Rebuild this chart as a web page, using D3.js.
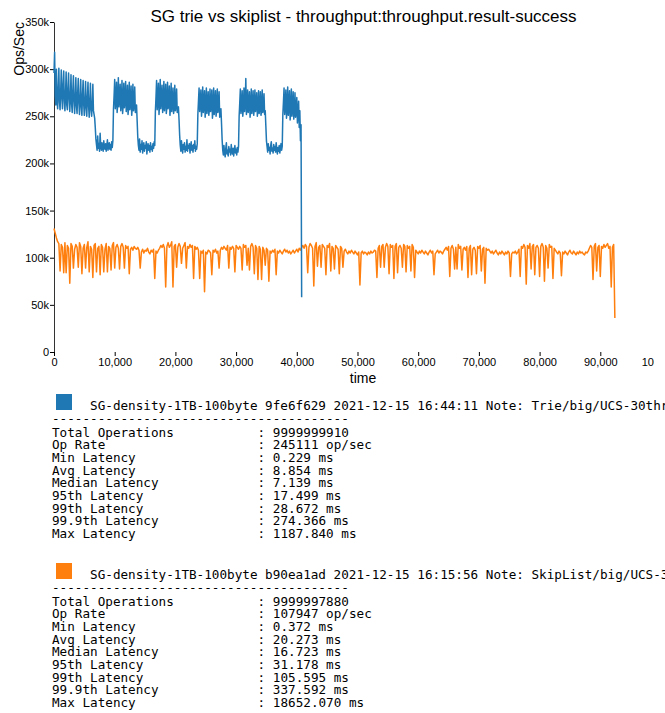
<!DOCTYPE html>
<html>
<head>
<meta charset="utf-8">
<script src="https://cdn.jsdelivr.net/npm/d3@7"></script>
<style>
  body { margin: 0; width: 665px; height: 713px; overflow: hidden; background: #fff; }
  .chart text { font-family: "Liberation Sans", Arial, sans-serif; fill: #000; }
  .legend text { font-family: "DejaVu Sans Mono", monospace; font-size: 12.65px; fill: #000; }
</style>
</head>
<body>
<div id="root"></div>
<script>
// throughput samples, in thousands of ops/sec
const trieStep = 100;   // seconds between samples
const trieOps = [
  296, 318, 272, 262, 300, 268, 258, 279, 301, 265,
  257, 276, 299, 270, 258, 284, 298, 266, 256, 274,
  297, 262, 257, 280, 296, 268, 255, 271, 294, 263,
  254, 277, 293, 266, 253, 270, 291, 261, 253, 275,
  290, 264, 252, 268, 289, 260, 251, 273, 288, 262,
  251, 266, 287, 259, 250, 270, 286, 261, 249, 265,
  285, 257, 250, 262, 284, 256, 252, 248, 238, 226,
  220, 214, 229, 216, 221, 213, 232, 218, 214, 222,
  216, 213, 224, 217, 215, 221, 213, 219, 225, 214,
  218, 222, 215, 220, 214, 223, 217, 224, 258, 272,
  289, 258, 265, 286, 254, 262, 291, 260, 268, 284,
  256, 263, 288, 253, 261, 285, 259, 266, 287, 255,
  262, 283, 252, 260, 286, 257, 264, 282, 251, 259,
  284, 256, 261, 281, 254, 258, 262, 245, 228, 219,
  214, 226, 212, 220, 215, 224, 211, 218, 222, 213,
  219, 216, 223, 210, 217, 221, 214, 219, 212, 222,
  215, 218, 213, 221, 216, 223, 219, 255, 270, 288,
  257, 266, 285, 252, 263, 289, 258, 267, 283, 254,
  261, 287, 256, 265, 284, 253, 260, 286, 258, 264,
  282, 251, 259, 285, 255, 262, 280, 253, 258, 283,
  256, 261, 279, 254, 258, 260, 246, 230, 219, 213,
  224, 216, 211, 220, 215, 222, 212, 218, 214, 225,
  213, 219, 216, 221, 211, 217, 223, 214, 219, 212,
  220, 216, 224, 213, 218, 215, 221, 252, 266, 280,
  255, 262, 278, 250, 259, 281, 254, 263, 277, 249,
  258, 280, 253, 261, 276, 251, 257, 279, 255, 262,
  278, 248, 256, 280, 252, 260, 277, 250, 257, 279,
  254, 259, 276, 249, 255, 258, 242, 225, 214, 209,
  219, 211, 207, 216, 222, 210, 214, 208, 218, 212,
  215, 209, 220, 213, 210, 216, 208, 214, 219, 211,
  215, 209, 217, 212, 218, 250, 264, 279, 253, 261,
  277, 250, 258, 280, 255, 263, 290, 252, 259, 278,
  254, 262, 276, 249, 257, 279, 253, 260, 277, 251,
  258, 278, 255, 262, 275, 250, 257, 277, 253, 259,
  276, 251, 256, 278, 254, 258, 274, 252, 256, 240,
  224, 218, 212, 221, 214, 217, 210, 219, 223, 213,
  216, 211, 220, 214, 218, 212, 222, 215, 210, 217,
  213, 219, 211, 216, 221, 214, 218, 252, 265, 280,
  252, 260, 278, 248, 257, 281, 251, 262, 277, 246,
  255, 279, 250, 258, 276, 247, 254, 275, 249, 256,
  270, 243, 252, 266, 238, 256, 224, 241, 58
];

const skipStep = 200;
const skipOps = [
  131, 126, 121, 117, 115, 86, 114, 111, 84, 116,
  84, 113, 110, 73, 115, 112, 89, 109, 114, 111,
  90, 116, 112, 83, 110, 114, 89, 111, 117, 85,
  112, 109, 79, 113, 115, 85, 110, 112, 82, 114,
  111, 85, 109, 115, 85, 112, 110, 87, 113, 116,
  89, 111, 114, 110, 88, 112, 115, 111, 89, 113,
  110, 112, 83, 109, 111, 108, 112, 110, 109, 111,
  108, 89, 106, 109, 105, 108, 107, 110, 106, 104,
  108, 106, 109, 78, 107, 105, 108, 110, 113, 111,
  114, 110, 69, 112, 116, 111, 113, 117, 69, 112,
  114, 90, 111, 115, 112, 94, 110, 113, 116, 89,
  112, 110, 114, 111, 113, 78, 112, 109, 111, 108,
  78, 107, 105, 108, 64, 106, 104, 108, 107, 105,
  82, 108, 106, 109, 105, 107, 89, 108, 111, 109,
  112, 110, 108, 113, 89, 111, 109, 112, 110, 85,
  113, 111, 109, 112, 110, 87, 114, 111, 113, 92,
  110, 87, 112, 115, 111, 83, 113, 110, 77, 112,
  109, 77, 111, 108, 92, 110, 108, 75, 107, 105,
  108, 106, 109, 82, 107, 105, 108, 106, 104, 107,
  109, 106, 108, 105, 107, 104, 106, 108, 105, 107,
  109, 106, 110, 108, 111, 113, 110, 114, 112, 84,
  111, 115, 113, 110, 70, 112, 116, 91, 111, 113,
  90, 114, 112, 110, 82, 113, 111, 115, 86, 112,
  110, 88, 113, 111, 109, 83, 112, 110, 90, 107,
  109, 106, 104, 107, 105, 108, 106, 104, 107, 105,
  103, 106, 71, 105, 107, 104, 106, 105, 103, 106,
  104, 107, 105, 106, 108, 107, 79, 110, 113, 90,
  112, 114, 90, 111, 115, 112, 83, 114, 111, 113,
  78, 112, 115, 84, 111, 113, 110, 90, 114, 112,
  85, 113, 110, 112, 86, 114, 111, 79, 108, 106,
  104, 107, 105, 108, 106, 104, 107, 105, 103, 106,
  108, 105, 107, 82, 104, 106, 108, 105, 107, 106,
  104, 107, 109, 111, 108, 112, 80, 110, 113, 109,
  88, 111, 88, 114, 110, 112, 87, 109, 111, 108,
  112, 79, 110, 113, 82, 109, 111, 108, 83, 112,
  110, 113, 86, 109, 111, 73, 110, 108, 109, 107,
  105, 107, 104, 106, 108, 105, 103, 106, 104, 107,
  105, 103, 106, 104, 107, 105, 80, 104, 106, 105,
  107, 104, 106, 109, 80, 112, 110, 114, 111, 72,
  113, 110, 115, 88, 112, 114, 82, 111, 113, 110,
  80, 112, 115, 111, 75, 113, 110, 89, 114, 111,
  112, 78, 110, 108, 106, 104, 107, 105, 81, 106,
  104, 107, 105, 103, 106, 108, 105, 104, 107, 105,
  103, 106, 104, 107, 105, 106, 104, 103, 106, 105,
  107, 110, 113, 111, 77, 112, 115, 86, 111, 113,
  80, 112, 110, 114, 111, 113, 115, 110, 112, 69,
  111, 114, 36
];

const seriesColors = ['#1f77b4', '#ff7f0e'];
const yTicks = [0, 50000, 100000, 150000, 200000, 250000, 300000, 350000];
const xTicks = [0, 10000, 20000, 30000, 40000, 50000, 60000, 70000, 80000, 90000, 100000];

const runTitles = [
  'SG-density-1TB-100byte 9fe6f629 2021-12-15 16:44:11 Note: Trie/big/UCS-30threads',
  'SG-density-1TB-100byte b90ea1ad 2021-12-15 16:15:56 Note: SkipList/big/UCS-30threads'
];
const statLabels = ['Total Operations', 'Op Rate', 'Min Latency', 'Avg Latency', 'Median Latency',
  '95th Latency', '99th Latency', '99.9th Latency', 'Max Latency'];
const trieStats = ['9999999910', '245111 op/sec', '0.229 ms', '8.854 ms', '7.139 ms',
  '17.499 ms', '28.672 ms', '274.366 ms', '1187.840 ms'];
const skipStats = ['9999997880', '107947 op/sec', '0.372 ms', '20.273 ms', '16.723 ms',
  '31.178 ms', '105.595 ms', '337.592 ms', '18652.070 ms'];

const margin = { top: 22, left: 54 };
const width = 607, height = 330;

const svg = d3.select('#root').append('svg')
  .attr('width', 665).attr('height', 713);

svg.append('defs').append('clipPath').attr('id', 'chart-clip')
  .append('rect').attr('width', 654).attr('height', 392);

const chart = svg.append('g').attr('class', 'chart').attr('clip-path', 'url(#chart-clip)');

chart.append('text')
  .attr('x', 363.5).attr('y', 22)
  .attr('text-anchor', 'middle')
  .style('font-size', '17px')
  .text('SG trie vs skiplist - throughput:throughput.result-success');

const g = chart.append('g').attr('transform', `translate(${margin.left},${margin.top})`);

const x = d3.scaleLinear().domain([0, 100000]).range([0, width]);
const y = d3.scaleLinear().domain([0, 350000]).range([height, 0]);

const yAxis = g.append('g')
  .call(d3.axisLeft(y).tickValues(yTicks).tickFormat(d3.format('~s'))
    .tickSize(4).tickSizeOuter(0).tickPadding(1));
yAxis.selectAll('text').style('font-size', '11px').style('font-family', '"Liberation Sans", Arial, sans-serif');
yAxis.select('.domain').attr('stroke', '#333');

const xAxis = g.append('g')
  .attr('transform', `translate(0,${height})`)
  .call(d3.axisBottom(x).tickValues(xTicks).tickFormat(d3.format(','))
    .tickSize(4).tickPadding(2));
xAxis.select('.domain').remove();
xAxis.selectAll('text').style('font-size', '11px').style('font-family', '"Liberation Sans", Arial, sans-serif');

g.append('text')
  .attr('x', 309).attr('y', height + 31)
  .attr('text-anchor', 'middle')
  .style('font-size', '14px')
  .text('time');

chart.append('text')
  .attr('transform', 'translate(23.5,22) rotate(-90)')
  .attr('text-anchor', 'end')
  .style('font-size', '14px')
  .text('Ops/Sec');

const series = [
  trieOps.map((v, i) => ({ t: i * trieStep, v: v * 1000 })),
  skipOps.map((v, i) => ({ t: i * skipStep, v: v * 1000 }))
];

const line = d3.line().x(d => x(d.t)).y(d => y(d.v));

// skiplist under, trie on top
[1, 0].forEach(k => {
  g.append('path')
    .datum(series[k])
    .attr('fill', 'none')
    .attr('stroke', seriesColors[k])
    .attr('stroke-width', 1.5)
    .attr('stroke-linejoin', 'round')
    .attr('d', line);
});

// run summaries
const cw = 7.615;
const legend = svg.append('g').attr('class', 'legend');
const blocks = [trieStats, skipStats];
blocks.forEach((stats, b) => {
  const top = 394 + b * 169;
  const lg = legend.append('g').attr('transform', `translate(0,${top})`);
  lg.append('rect')
    .attr('x', 56).attr('y', 0).attr('width', 16).attr('height', 16)
    .attr('fill', seriesColors[b]);
  lg.append('text').attr('x', 52 + 5 * cw).attr('y', 16).text(runTitles[b]);
  lg.append('text').attr('x', 52).attr('y', 29).text('-'.repeat(39));
  statLabels.forEach((label, i) => {
    const yy = 42.5 + i * 12.7;
    lg.append('text').attr('x', 52).attr('y', yy).text(label);
    lg.append('text').attr('x', 52 + 27 * cw).attr('y', yy).text(':');
    lg.append('text').attr('x', 52 + 29 * cw).attr('y', yy).text(stats[i]);
  });
});
</script>
</body>
</html>
